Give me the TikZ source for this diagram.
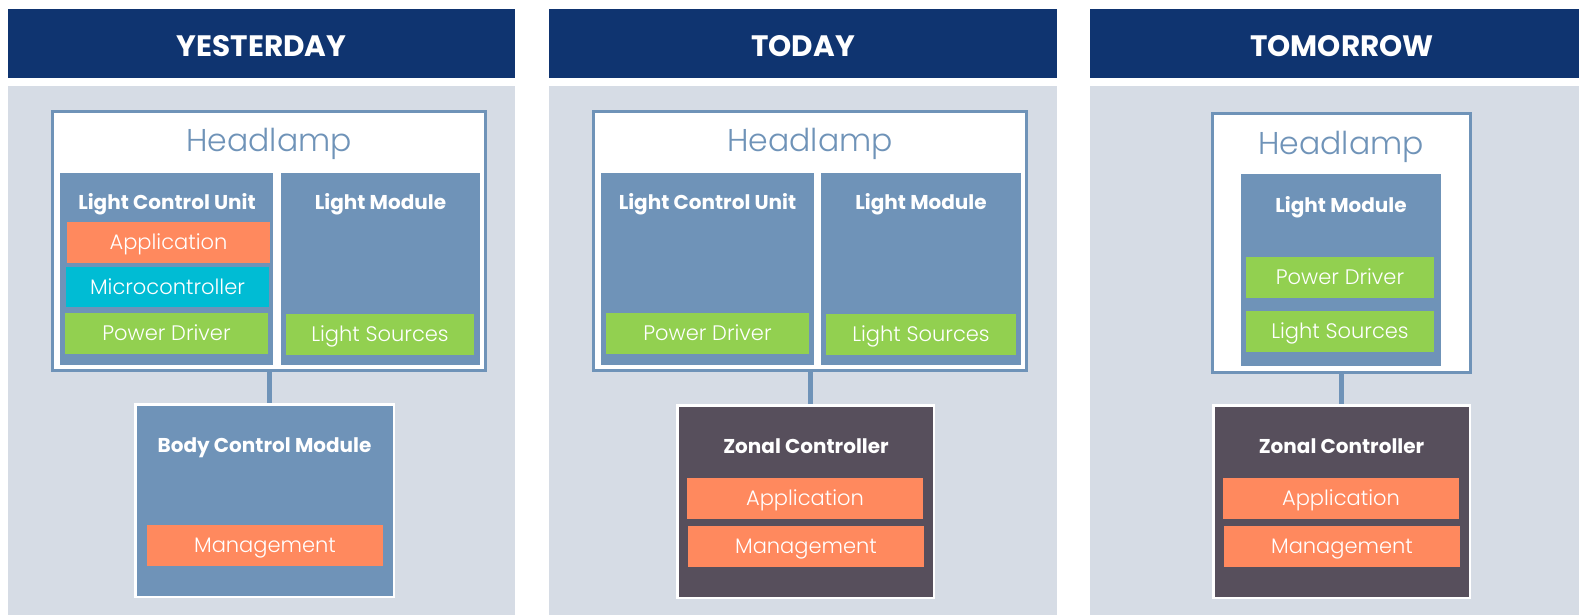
\documentclass[tikz,border=0pt]{standalone}
\usepackage{fontspec}
\setmainfont{Poppins}
\IfFontExistsTF{Poppins Light}{\newfontfamily\lightfont{Poppins Light}}{\newcommand\lightfont{}}
\definecolor{navy}{HTML}{0F3470}
\definecolor{panel}{HTML}{D6DCE5}
\definecolor{steel}{HTML}{6F93B8}
\definecolor{orng}{HTML}{FF895E}
\definecolor{cyn}{HTML}{00BCD4}
\definecolor{grn}{HTML}{92D050}
\definecolor{zonal}{HTML}{574F5C}
\tikzset{
  rbox/.style={anchor=north west, inner sep=0pt, outer sep=0pt},
  hdr/.style={rbox, fill=navy},
  pnl/.style={rbox, fill=panel},
  frame/.style={anchor=north west, inner sep=0pt, fill=white, draw=steel, line width=3pt},
  unit/.style={rbox, fill=steel},
  ctrl/.style={anchor=north west, inner sep=0pt, draw=white, line width=2.5pt},
  sub/.style={rbox, text=white, font=\lightfont\fontsize{21}{21}\selectfont, text height=14.7pt, text depth=0pt},
  ttl/.style={anchor=center, inner sep=0pt, text=white, font=\fontsize{20}{20}\selectfont\bfseries, text height=14pt, text depth=0pt},
  htxt/.style={anchor=center, inner sep=0pt, text=white, font=\fontsize{29.5}{29.5}\selectfont\bfseries, text height=20.6pt, text depth=0pt},
  lamp/.style={anchor=center, inner sep=0pt, text=steel, font=\lightfont\fontsize{31.5}{31.5}\selectfont, text height=22pt, text depth=0pt},
  conn/.style={draw=steel, line width=5pt},
}
\begin{document}
\begin{tikzpicture}[x=1pt,y=-1pt]
\useasboundingbox (0,0) rectangle (1579,614);
% headers and panels
\node[hdr, minimum width=507pt, minimum height=69pt] (h1) at (8,9) {};
\node[hdr, minimum width=508pt, minimum height=69pt] (h2) at (549,9) {};
\node[hdr, minimum width=507pt, minimum height=69pt] (h3) at (1090,9) {};
\node[htxt] (t1) at (261.5,46) {YESTERDAY};
\node[htxt] (t2) at (803,46) {TODAY};
\node[htxt] (t3) at (1342,46) {TOMORROW};
\node[pnl, minimum width=507pt, minimum height=530pt] (p1) at (8,86) {};
\node[pnl, minimum width=508pt, minimum height=530pt] (p2) at (549,86) {};
\node[pnl, minimum width=507pt, minimum height=530pt] (p3) at (1090,86) {};
% ---------- column 1 ----------
\node[frame, minimum width=433pt, minimum height=259pt] (hl1) at (51,110) {};
\node[lamp] (hlt1) at (269,140.5) {Headlamp};
\node[unit, minimum width=213pt, minimum height=192pt] (lcu1) at (60,173) {};
\node[ttl] (lcut1) at (167,202) {Light Control Unit};
\node[sub, fill=orng, minimum width=203pt, minimum height=41pt] (app1) at (67,222) {Application};
\node[sub, fill=cyn, minimum width=203pt, minimum height=40pt] (mic1) at (66,267) {Microcontroller};
\node[sub, fill=grn, minimum width=203pt, minimum height=41pt] (pd1) at (65,313) {Power Driver};
\node[unit, minimum width=199pt, minimum height=192pt] (lm1) at (281,173) {};
\node[ttl] (lmt1) at (380.5,202) {Light Module};
\node[sub, fill=grn, minimum width=188pt, minimum height=41pt] (ls1) at (286,314) {Light Sources};
\node[ctrl, fill=steel, minimum width=258.5pt, minimum height=192.5pt] (bcm1) at (134,403) {};
\node[ttl] (bcmt1) at (264.5,445.5) {Body Control Module};
\node[sub, fill=orng, minimum width=236pt, minimum height=41pt] (mg1) at (147,525) {Management};
\draw[conn] (hl1.south) -- (hl1.south |- bcm1.north);
% ---------- column 2 ----------
\node[frame, minimum width=433pt, minimum height=259pt] (hl2) at (592,110) {};
\node[lamp] (hlt2) at (810,140.5) {Headlamp};
\node[unit, minimum width=213pt, minimum height=192pt] (lcu2) at (601,173) {};
\node[ttl] (lcut2) at (707.5,202) {Light Control Unit};
\node[sub, fill=grn, minimum width=203pt, minimum height=41pt] (pd2) at (606,313) {Power Driver};
\node[unit, minimum width=200pt, minimum height=192pt] (lm2) at (821,173) {};
\node[ttl] (lmt2) at (921,202) {Light Module};
\node[sub, fill=grn, minimum width=190pt, minimum height=41pt] (ls2) at (826,314) {Light Sources};
\node[ctrl, fill=zonal, minimum width=256.5pt, minimum height=192.5pt] (zc2) at (676,404) {};
\node[ttl] (zct2) at (806,446) {Zonal Controller};
\node[sub, fill=orng, minimum width=236pt, minimum height=41pt] (app2) at (687,478) {Application};
\node[sub, fill=orng, minimum width=236pt, minimum height=41pt] (mg2) at (688,526) {Management};
\draw[conn] (hl2.south) -- (hl2.south |- zc2.north);
% ---------- column 3 ----------
\node[frame, minimum width=258pt, minimum height=259pt] (hl3) at (1211,112) {};
\node[lamp] (hlt3) at (1341,143) {Headlamp};
\node[unit, minimum width=200pt, minimum height=192pt] (lm3) at (1241,174) {};
\node[ttl] (lmt3) at (1341,205) {Light Module};
\node[sub, fill=grn, minimum width=188pt, minimum height=41pt] (pd3) at (1246,257) {Power Driver};
\node[sub, fill=grn, minimum width=188pt, minimum height=41pt] (ls3) at (1246,311) {Light Sources};
\node[ctrl, fill=zonal, minimum width=256.5pt, minimum height=192.5pt] (zc3) at (1212,404) {};
\node[ttl] (zct3) at (1341.5,446) {Zonal Controller};
\node[sub, fill=orng, minimum width=236pt, minimum height=41pt] (app3) at (1223,478) {Application};
\node[sub, fill=orng, minimum width=236pt, minimum height=41pt] (mg3) at (1224,526) {Management};
\draw[conn] (hl3.south) -- (hl3.south |- zc3.north);
\end{tikzpicture}
\end{document}
